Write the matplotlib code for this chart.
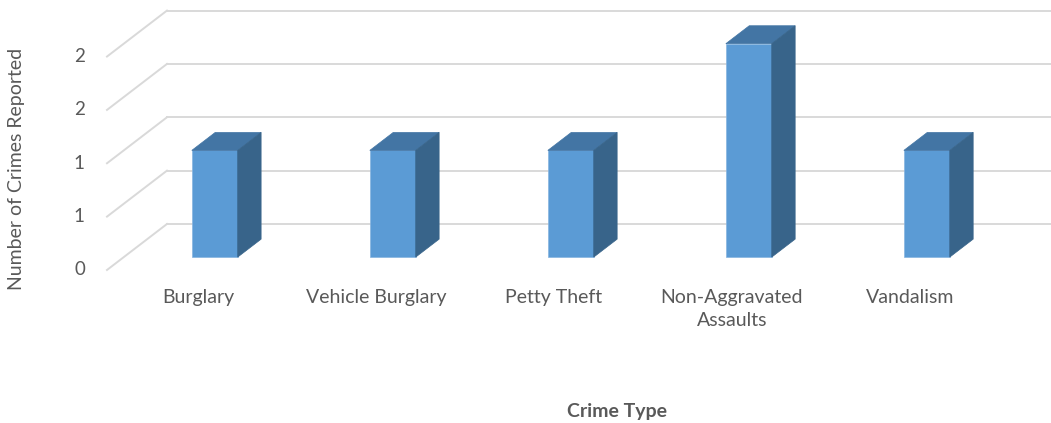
import matplotlib
matplotlib.use("Agg")
import matplotlib.pyplot as plt
from matplotlib.patches import Polygon

categories = ["Burglary", "Vehicle Burglary", "Petty Theft", "Non-Aggravated\nAssaults", "Vandalism"]
counts = [1, 1, 1, 2, 1]
y_ticks = [0, 0.5, 1, 1.5, 2]
y_tick_labels = ["0", "1", "1", "2", "2"]

plt.rcParams['font.family'] = ['Lato', 'DejaVu Sans']

fig = plt.figure(figsize=(10.51, 4.23), dpi=100)
ax = fig.add_axes([0, 0, 1, 1])
ax.set_xlim(-1.112, 4.792)
ax.set_ylim(-1.434, 2.530)
ax.axis('off')

# oblique offset for full depth of the chart box
dx, dy = 0.337, 0.431
wall_left = -0.511
wall_right = 5.0
grid_col = '#d9d9d9'

for v in y_ticks:
    ax.plot([wall_left, wall_left + dx], [v, v + dy], color=grid_col, lw=1.4, zorder=1)
    ax.plot([wall_left + dx, wall_right], [v + dy, v + dy], color=grid_col, lw=1.4, zorder=1)

for v, lab in zip(y_ticks, y_tick_labels):
    ax.text(-0.635, v, lab, ha='right', va='center', fontsize=13.5, color='#595959')

ax.text(-1.017, 0.95, "Number of Crimes Reported", rotation=90, ha='center', va='center',
        fontsize=14, color='#595959')

# bars
w = 0.258
d0, d1 = 0.28, 0.67
front = '#5b9bd5'
top_c = '#4375a4'
side_c = '#38648a'
xs = list(range(len(categories)))
lefts = [i - w / 2 + d0 * dx for i in xs]
ax.bar(lefts, counts, width=w, bottom=d0 * dy, align='edge', color=front,
       edgecolor='#86b4e0', linewidth=0.5, zorder=3)
bd = d1 - d0
for x0, v in zip(lefts, counts):
    x1 = x0 + w
    bot = d0 * dy
    top = v + d0 * dy
    ax.add_patch(Polygon([(x0, top), (x1, top), (x1 + bd * dx, top + bd * dy), (x0 + bd * dx, top + bd * dy)],
                         closed=True, facecolor=top_c, edgecolor=top_c, lw=0.5, zorder=3))
    ax.add_patch(Polygon([(x1, bot), (x1, top), (x1 + bd * dx, top + bd * dy), (x1 + bd * dx, bot + bd * dy)],
                         closed=True, facecolor=side_c, edgecolor=side_c, lw=0.5, zorder=3))

for i, lab in zip(xs, categories):
    ax.text(i, -0.18, lab, ha='center', va='top', fontsize=14, color='#595959', linespacing=1.45)

ax.text(2.354, -1.33, "Crime Type", ha='center', va='center', fontsize=14, fontweight='bold',
        color='#595959')

fig.savefig("out.png", dpi=100)
